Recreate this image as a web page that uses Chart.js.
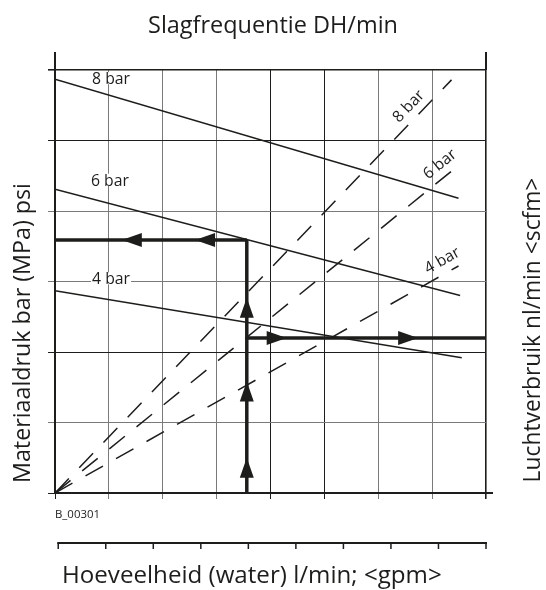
<!DOCTYPE html>
<html lang="nl">
<head>
  <meta charset="UTF-8">
  <title>Slagfrequentie DH/min</title>
  <script src="https://cdn.jsdelivr.net/npm/chart.js"></script>
  <style>
    body { margin: 0; background: #fff; }
    canvas { display: block; }
  </style>
</head>
<body>

<canvas id="nomogram" width="546" height="590"></canvas>

<script>
  // grid units: x 0..8 columns, y 0..6 rows
  const barLabels = ["8 bar", "6 bar", "4 bar"];

  // solid lines (materiaaldruk)
  const drukStartY = [5.87, 4.31, 2.87];
  const drukEindX  = [7.49, 7.52, 7.55];
  const drukEindY  = [4.18, 2.80, 1.92];
  const drukLabelX = [1.04, 1.02, 1.04];
  const drukLabelY = [5.87, 4.43, 3.03];

  // dashed lines (luchtverbruik), from the origin
  const luchtEindX  = [7.36, 7.48, 7.49];
  const luchtEindY  = [5.86, 4.64, 3.22];
  const luchtLabelT = [0.915, 0.975, 0.975];

  // reading example
  const leesX = 3.56;
  const leesDruk = 3.59;
  const leesLucht = 2.20;
  const pijlOmhoog = [0.50, 1.58, 2.77];
  const pijlLinks  = [1.24, 2.60];
  const pijlRechts = [4.30, 6.74];

  const xMax = 8;
  const yMax = 6;
  const onderTicks = [0, 1, 2, 3, 4, 5, 6, 7, 8, 9];

  const INK = "#1d1d1b";
  const GRIJS = "#7a7a7a";
  const FONT = '"Open Sans", "Noto Sans", sans-serif';
  // grid lines that print darker in the original
  const xDonker = [4, 5];
  const yDonker = [2, 5];

  const datasets = [];
  barLabels.forEach((lbl, i) => {
    datasets.push({
      label: "druk " + lbl,
      data: [{x: 0, y: drukStartY[i]}, {x: drukEindX[i], y: drukEindY[i]}],
      borderColor: INK, borderWidth: 1.5
    });
    datasets.push({
      label: "lucht " + lbl,
      data: [{x: 0, y: 0}, {x: luchtEindX[i], y: luchtEindY[i]}],
      borderColor: INK, borderWidth: 1.5, borderDash: [20, 15]
    });
  });
  datasets.push({
    label: "lees omhoog",
    data: [{x: leesX, y: 0}, {x: leesX, y: leesDruk}],
    borderColor: INK, borderWidth: 3.5
  });
  datasets.push({
    label: "lees links",
    data: [{x: leesX, y: leesDruk}, {x: 0, y: leesDruk}],
    borderColor: INK, borderWidth: 3.5
  });
  datasets.push({
    label: "lees rechts",
    data: [{x: leesX, y: leesLucht}, {x: xMax, y: leesLucht}],
    borderColor: INK, borderWidth: 3.5
  });

  function fitFont(ctx, text, width) {
    ctx.font = "100px " + FONT;
    return 100 * width / ctx.measureText(text).width;
  }

  function tekst(ctx, text, x, y, width, align, rot) {
    const size = fitFont(ctx, text, width);
    ctx.save();
    ctx.translate(x, y);
    if (rot) ctx.rotate(rot);
    ctx.font = size.toFixed(2) + "px " + FONT;
    ctx.textAlign = align;
    ctx.textBaseline = "alphabetic";
    ctx.fillStyle = INK;
    ctx.fillText(text, 0, 0);
    ctx.restore();
  }

  function pijl(ctx, px, py, dx, dy) {
    const len = 20, half = 7;
    const bx = px - dx * len, by = py - dy * len;
    ctx.beginPath();
    ctx.moveTo(px, py);
    ctx.lineTo(bx - dy * half, by + dx * half);
    ctx.lineTo(bx + dy * half, by - dx * half);
    ctx.closePath();
    ctx.fill();
  }

  const extras = {
    id: "extras",
    afterDatasetsDraw(chart) {
      const {ctx, chartArea: a, scales: {x, y}} = chart;
      ctx.save();
      ctx.fillStyle = INK;
      pijlOmhoog.forEach(v => pijl(ctx, x.getPixelForValue(leesX), y.getPixelForValue(v), 0, -1));
      pijlLinks.forEach(v => pijl(ctx, x.getPixelForValue(v), y.getPixelForValue(leesDruk), -1, 0));
      pijlRechts.forEach(v => pijl(ctx, x.getPixelForValue(v), y.getPixelForValue(leesLucht), 1, 0));

      // axis extensions
      ctx.strokeStyle = INK;
      ctx.lineWidth = 2;
      ctx.beginPath();
      ctx.moveTo(a.left, a.top); ctx.lineTo(a.left, a.top - 18);
      ctx.moveTo(a.right, a.top); ctx.lineTo(a.right, a.top - 18);
      ctx.moveTo(a.right, a.bottom); ctx.lineTo(a.right + 7, a.bottom);
      ctx.stroke();

      // labels of the solid lines
      const lblW = 38;
      barLabels.forEach((lbl, i) => {
        const px = x.getPixelForValue(drukLabelX[i]);
        const py = y.getPixelForValue(drukLabelY[i]);
        ctx.fillStyle = "#fff";
        ctx.fillRect(px - lblW / 2 - 1, py - 7, lblW + 2, 12);
        tekst(ctx, lbl, px, py + 5, lblW, "center");
      });

      // labels of the dashed lines
      barLabels.forEach((lbl, i) => {
        const x0 = x.getPixelForValue(0), y0 = y.getPixelForValue(0);
        const x1 = x.getPixelForValue(luchtEindX[i]), y1 = y.getPixelForValue(luchtEindY[i]);
        const ang = Math.atan2(y1 - y0, x1 - x0);
        const t = luchtLabelT[i];
        const px = x0 + (x1 - x0) * t, py = y0 + (y1 - y0) * t;
        const nx = Math.sin(ang), ny = -Math.cos(ang);
        tekst(ctx, lbl, px + nx * 8, py + ny * 8, lblW, "center", ang);
      });
      ctx.restore();
    },
    afterDraw(chart) {
      const {ctx, chartArea: a, scales: {x}} = chart;
      ctx.save();
      tekst(ctx, "Slagfrequentie DH/min", 273, 33, 250, "center");
      tekst(ctx, "Materiaaldruk bar (MPa) psi", 30, 333, 300, "center", -Math.PI / 2);
      tekst(ctx, "Luchtverbruik nl/min <scfm>", 540, 330, 305, "center", -Math.PI / 2);
      tekst(ctx, "Hoeveelheid (water) l/min; <gpm>", 62, 583, 380, "left");
      tekst(ctx, "B_00301", a.left, 518, 45, "left");

      // lower water axis
      const oy = a.bottom + 50;
      const ox = v => x.getPixelForValue(0.06 + v * (xMax - 0.06) / (onderTicks.length - 1));
      ctx.strokeStyle = INK;
      ctx.lineWidth = 2;
      ctx.beginPath();
      ctx.moveTo(ox(onderTicks[0]) - 1, oy);
      ctx.lineTo(ox(onderTicks[onderTicks.length - 1]) + 1, oy);
      ctx.stroke();
      ctx.lineWidth = 1.5;
      ctx.beginPath();
      onderTicks.forEach(v => {
        ctx.moveTo(ox(v), oy);
        ctx.lineTo(ox(v), oy + 6);
      });
      ctx.stroke();
      ctx.restore();
    }
  };

  const gridKleur = (ctx, last, donker) =>
    (ctx.index === 0 || ctx.index === last || donker.includes(ctx.index)) ? INK : GRIJS;
  const gridBreedte = (ctx, last) => (ctx.index === last) ? 1.6 : 1;

  new Chart(document.getElementById("nomogram"), {
    type: "scatter",
    data: { datasets },
    options: {
      responsive: false,
      animation: false,
      devicePixelRatio: 1,
      showLine: true,
      layout: { padding: { left: 48, right: 60, top: 70, bottom: 91 } },
      elements: { point: { radius: 0, hoverRadius: 0 }, line: { tension: 0 } },
      plugins: { legend: { display: false }, tooltip: { enabled: false }, title: { display: false } },
      scales: {
        x: {
          type: "linear", min: 0, max: xMax,
          ticks: { display: false, stepSize: 1 },
          grid: { color: c => gridKleur(c, xMax, xDonker), lineWidth: c => gridBreedte(c, xMax), drawTicks: true, tickLength: 6 },
          border: { display: true, color: INK, width: 2 }
        },
        y: {
          type: "linear", min: 0, max: yMax,
          ticks: { display: false, stepSize: 1 },
          grid: { color: c => gridKleur(c, yMax, yDonker), lineWidth: c => gridBreedte(c, yMax), drawTicks: true, tickLength: 7 },
          border: { display: true, color: INK, width: 2 }
        }
      }
    },
    plugins: [extras]
  });
</script>

</body>
</html>
